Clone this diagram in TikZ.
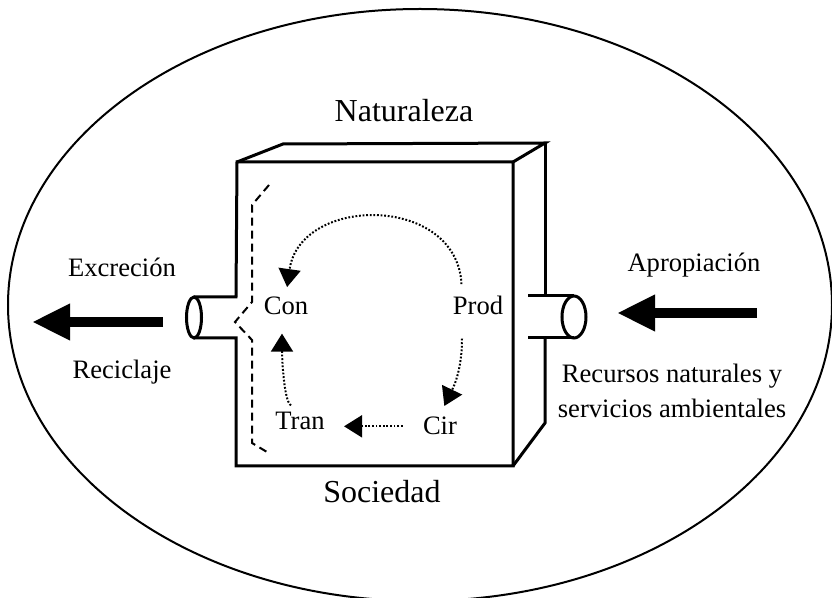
\documentclass[tikz,border=0pt]{standalone}
\usepackage{fontspec}
\setmainfont{Liberation Serif}
\usetikzlibrary{arrows.meta}
\begin{document}
\begin{tikzpicture}
		[	x=0.5pt,y=-0.5pt,
		lbl/.style={font=\fontsize{13.3}{16}\selectfont,inner sep=1pt,anchor=base},
		title/.style={font=\fontsize{16}{19}\selectfont,inner sep=1pt,anchor=base},
		wall/.style={line width=1.5pt,line join=miter},
		cut/.style={line width=1pt,dash pattern=on 4pt off 2.5pt},
		flow/.style={line width=1pt,dash pattern=on 0.9pt off 0.9pt,-{Triangle[length=9pt,width=11pt]}},
		bigarrow/.style={line width=5pt,-{Triangle[length=19pt,width=17pt]}}
		]
		\useasboundingbox (0,0) rectangle (832,598);
		\draw[line width=1pt] (420,305) ellipse [x radius=206pt,y radius=148pt];

% the box
\draw[wall] (194,297) -- (236,297) -- (237,162) -- (513,162) -- (513,466) -- (236,466) -- (236,338) -- (194,338);
\draw[wall] (237,162) -- (283,144) -- (545,143) -- (513,162);
\draw[wall] (545,143) -- (545,296);
\draw[wall] (545,338) -- (545,423) -- (513,466);
\draw[wall] (194,317.5) ellipse [x radius=3.75pt,y radius=10.25pt];
\draw[wall] (528,296) -- (574,296);
\draw[wall] (528,338) -- (574,338);
\draw[wall] (574,317) ellipse [x radius=6pt,y radius=10.5pt];
\draw[cut] (269,185) -- (252,205) -- (252,302) -- (235,322) -- (252,340) -- (252,443) -- (267,452);

\node[title] (nat) at (404,122){Naturaleza};
\node[title] (soc) at (382,503){Sociedad};
\node[lbl] (exc) at (122,277){Excreción};
\node[lbl] (rec) at (122,379){Reciclaje};
\node[lbl] (apr) at (694,272){Apropiación};
\node[lbl] (res1) at (672,383){Recursos naturales y};
\node[lbl] (res2) at (672,418){servicios ambientales};

\node[lbl] (con) at (286,315){Con};
\node[lbl] (prod) at (478,315){Prod};
\node[lbl] (tran) at (300,430){Tran};
\node[lbl] (cir) at (440,435){Cir};

\draw[flow,shorten <=5pt,shorten >=4pt] ([xshift=-8pt]prod.north) .. controls +(-5,-100) and +(14,-100) .. (con.north);
\draw[flow,shorten <=10.5pt,shorten >=5pt] ([xshift=-8pt]prod.south) .. controls +(0,55) and +(12,-25) .. (cir.north);
\draw[flow,shorten <=9pt,shorten >=8.5pt] (cir.west) -- (cir.west -| tran.east);
\draw[flow,shorten <=6pt,shorten >=8pt] ([xshift=1pt]tran.north) .. controls +(-18,-8) and +(0,40) .. ([xshift=-2pt]con.south);

\coordinate (out-from) at (163,322);
\coordinate (out-to) at (32,322);
\coordinate (in-from) at (757,313);
\coordinate (in-to) at (617,313);
\draw[bigarrow] (out-from) -- (out-to);
\draw[bigarrow] (in-from) -- (in-to);
	\end{tikzpicture}
\end{document}
